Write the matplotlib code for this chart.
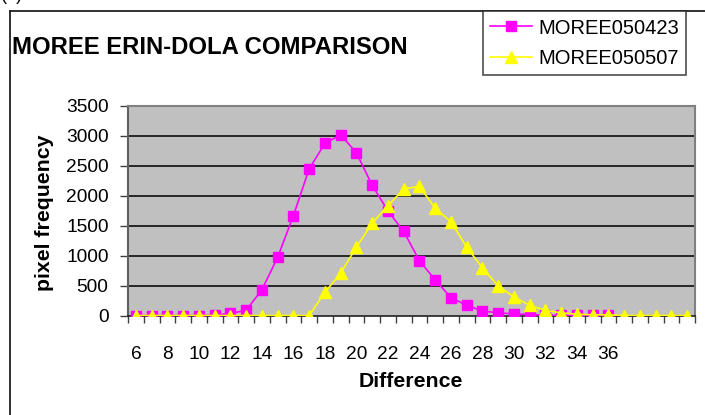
import matplotlib
matplotlib.use("Agg")
import matplotlib.pyplot as plt
from matplotlib.lines import Line2D

plt.rcParams['font.family'] = ['Liberation Sans', 'DejaVu Sans']

# pixel-difference bins and their frequency counts for both dates
differences = [6, 7, 8, 9, 10, 11, 12, 13, 14, 15, 16, 17, 18, 19, 20, 21, 22, 23,
               24, 25, 26, 27, 28, 29, 30, 31, 32, 33, 34, 35, 36, 37, 38, 39, 40, 41]
tick_labels = ['6', '', '8', '', '10', '', '12', '', '14', '', '16', '', '18', '',
               '20', '', '22', '', '24', '', '26', '', '28', '', '30', '', '32', '',
               '34', '', '36', '', '', '', '', '']

moree_050423 = [0, 0, 0, 0, 0, 5, 35, 85, 430, 970, 1665, 2445, 2870, 3015, 2715,
                2175, 1745, 1405, 915, 595, 300, 170, 75, 45, 27, 17, 5, 3, 2, 1, 1]
moree_050507 = [0, 0, 0, 0, 0, 0, 0, 0, 0, 0, 0, 0, 385, 705, 1140, 1540, 1830,
                2110, 2155, 1790, 1565, 1140, 795, 495, 310, 170, 85, 45, 20, 12,
                10, 0, 0, 0, 0, 0]
yticks = [0, 500, 1000, 1500, 2000, 2500, 3000, 3500]

W, H = 705, 415
fig = plt.figure(figsize=(W / 100, H / 100), dpi=100)
ax = fig.add_axes([128 / W, 1 - 315.5 / H, (695 - 128) / W, (315.5 - 105.7) / H])
ax.set_facecolor('#C0C0C0')

pos = list(range(len(differences)))
pink, = ax.plot(pos[:len(moree_050423)], moree_050423, color='#FF00FF', lw=1.2,
                marker='s', ms=6.5, mec='#FF00FF', mfc='#FF00FF', zorder=3)
yel, = ax.plot(pos, moree_050507, color='#FFFF00', lw=1.2,
               marker='^', ms=8, mec='#FFFF00', mfc='#FFFF00', zorder=4)

ax.set_xlim(-0.5, len(differences) - 0.5)
ax.set_ylim(0, 3500)
ax.set_yticks(yticks)
for v in yticks[1:-1]:
    ax.axhline(v, color='#1a1a1a', lw=1.3, zorder=1)

# labels sit at category centres, tick marks between categories
ax.set_xticks(pos)
ax.set_xticklabels(tick_labels)
ax.set_xticks([p - 0.5 for p in pos] + [pos[-1] + 0.5], minor=True)
ax.tick_params(axis='x', which='major', length=0, pad=22, labelsize=13.8)
ax.tick_params(axis='x', which='minor', length=5, color='#404040', width=1)
ax.tick_params(axis='y', length=6, color='#404040', width=1, pad=8, labelsize=13.8)

for side in ['top', 'right']:
    ax.spines[side].set_color('#808080')
    ax.spines[side].set_linewidth(1.5)
ax.spines['left'].set_color('#606060')
ax.spines['left'].set_linewidth(1.5)
ax.spines['bottom'].set_color('#202020')
ax.spines['bottom'].set_linewidth(1.2)

fig.text(45 / W, 1 - 213 / H, 'pixel frequency', rotation=90, fontsize=15.3,
         fontweight='bold', ha='center', va='center')
fig.text(411 / W, 1 - 381 / H, 'Difference', fontsize=15.3, fontweight='bold',
         ha='center', va='center')
fig.text(12 / W, 1 - 47 / H, 'MOREE ERIN-DOLA COMPARISON', fontsize=17.2,
         fontweight='bold', ha='left', va='center')
fig.text(1 / W, 1 - 4 / H, '(a)', fontsize=13, ha='left', va='bottom')

# chart frame, running off the right and bottom edges
fig.add_artist(Line2D([10 / W, 10 / W], [1 - 11 / H, -0.1], color='#202020', lw=1.3))
fig.add_artist(Line2D([10 / W, 1.1], [1 - 11 / H, 1 - 11 / H], color='#202020', lw=1.3))

leg = fig.legend([pink, yel], ['MOREE050423', 'MOREE050507'],
                 loc='upper left', bbox_to_anchor=(483 / W, 1 - 11.5 / H),
                 fontsize=14.5, frameon=True, fancybox=False, shadow=False,
                 borderaxespad=0, borderpad=0.35, handlelength=2.1,
                 handletextpad=0.3, labelspacing=0.55)
leg.get_frame().set_edgecolor('#202020')
leg.get_frame().set_linewidth(1.2)

fig.savefig('out.png', dpi=100)
